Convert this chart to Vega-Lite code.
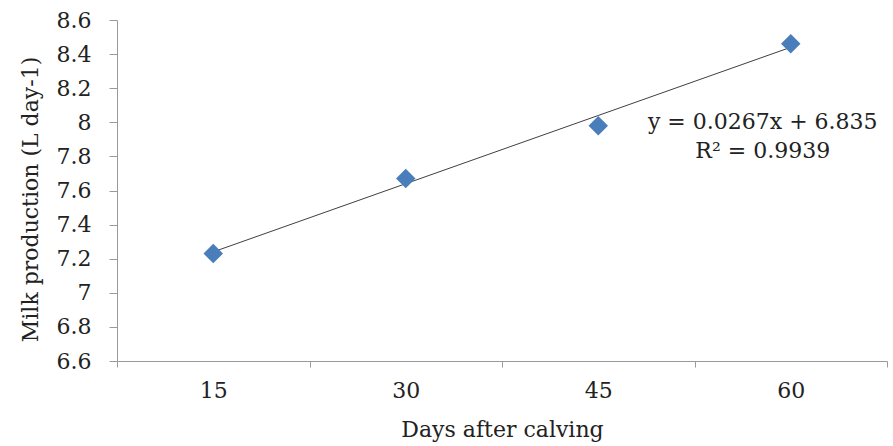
{
  "$schema": "https://vega.github.io/schema/vega-lite/v6.json",
  "width": 770,
  "height": 341,
  "autosize": {"type": "none"},
  "padding": {"left": 117, "top": 20, "right": 6, "bottom": 85},
  "background": "white",
  "config": {
    "view": {"stroke": null},
    "font": "DejaVu Serif",
    "axis": {"grid": false, "domainColor": "#9a9a9a", "tickColor": "#9a9a9a", "labelFont": "DejaVu Serif", "titleFont": "DejaVu Serif", "labelColor": "#222", "titleColor": "#222", "labelFontSize": 22, "titleFontSize": 22, "titleFontWeight": "normal"}
  },
  "datasets": {
    "pts": [
      {"day": "15", "milk": 7.23, "trend": 7.24},
      {"day": "30", "milk": 7.67, "trend": 7.64},
      {"day": "45", "milk": 7.98, "trend": 8.04},
      {"day": "60", "milk": 8.46, "trend": 8.44}
    ],
    "notes": [
      {"day": "60", "yv": 8.0, "label": "y = 0.0267x  + 6.835"},
      {"day": "60", "yv": 7.83, "label": "R² = 0.9939"}
    ]
  },
  "data": {"name": "pts"},
  "encoding": {
    "x": {
      "field": "day", "type": "ordinal", "sort": null,
      "scale": {"paddingInner": 0, "paddingOuter": 0},
      "axis": {"title": "Days after calving", "labelAngle": 0, "tickBand": "extent", "tickSize": 6, "labelPadding": 13, "titlePadding": 18}
    },
    "y": {
      "type": "quantitative",
      "scale": {"domain": [6.6, 8.6], "nice": false, "zero": false},
      "axis": {"title": "Milk production (L day-1)", "values": [6.6, 6.8, 7, 7.2, 7.4, 7.6, 7.8, 8, 8.2, 8.4, 8.6], "format": ".1~f", "tickSize": 8, "labelPadding": 18, "titlePadding": 14, "titleY": 179}
    }
  },
  "layer": [
    {
      "mark": {"type": "line", "color": "#3f3f3f", "strokeWidth": 1},
      "encoding": {"y": {"field": "trend"}}
    },
    {
      "mark": {"type": "point", "shape": "diamond", "filled": true, "color": "#4a7ebb", "size": 380, "opacity": 1},
      "encoding": {"y": {"field": "milk"}}
    },
    {
      "data": {"name": "notes"},
      "mark": {"type": "text", "fontSize": 22, "color": "#222", "dx": -28, "align": "center", "baseline": "middle"},
      "encoding": {"y": {"field": "yv"}, "text": {"field": "label"}}
    }
  ]
}
